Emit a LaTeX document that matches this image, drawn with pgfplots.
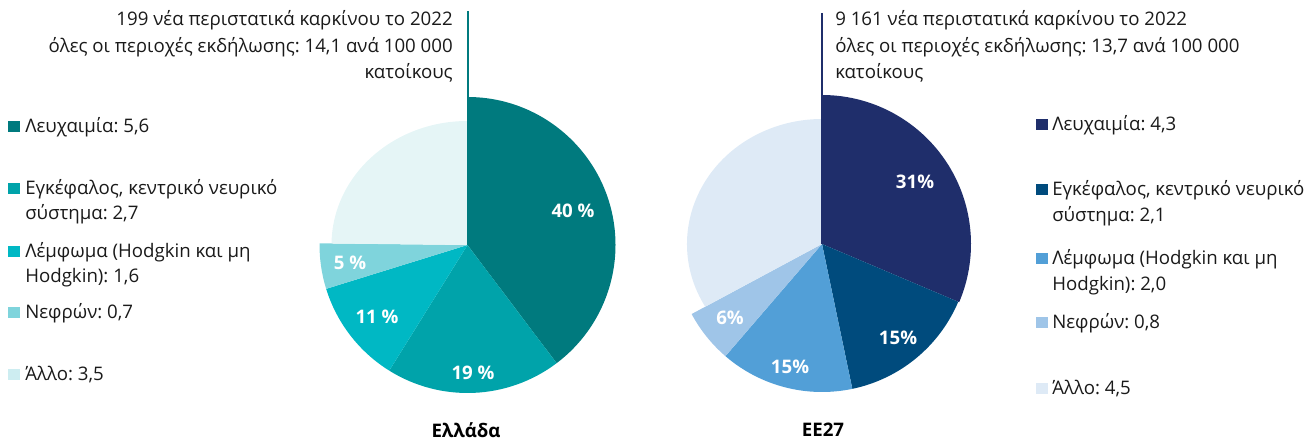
\documentclass[border=0pt]{standalone}
\usepackage{fontspec}
\setmainfont{Open Sans}
\usepackage{pgfplots}
\usepackage{pgfplotstable}
\pgfplotsset{compat=1.18}

% Greece palette
\definecolor{gr0}{HTML}{007A7E}
\definecolor{gr1}{HTML}{00A3AA}
\definecolor{gr2}{HTML}{00B8C4}
\definecolor{gr3}{HTML}{7FD4DC}
\definecolor{gr4}{HTML}{E5F5F6}
\definecolor{grleg4}{HTML}{CDEDF1}
% EU palette
\definecolor{eu0}{HTML}{1F2E6B}
\definecolor{eu1}{HTML}{004B7D}
\definecolor{eu2}{HTML}{529FD7}
\definecolor{eu3}{HTML}{9FC5E8}
\definecolor{eu4}{HTML}{DEEAF6}
\definecolor{txt}{HTML}{1A1A1A}

% rates per 100 000; rx/ry = slice radius in px
\pgfplotstableread{
value rx ry
5.6 148 148
2.7 148 148
1.6 148 148
0.7 148 148
3.5 136 124
}\greece

\pgfplotstableread{
value rx ry
4.3 149 149
2.1 148 148
2.0 148 148
0.8 148 148
4.5 135 125
}\eudata

% polar angle -> ellipse parameter, kept next to the polar angle
\newcommand{\elpar}[4]{% #1 out macro, #2 angle, #3 rx, #4 ry
  \pgfmathsetmacro\tmpa{atan2(#3*sin(#2),#4*cos(#2))}%
  \pgfmathsetmacro#1{\tmpa+360*round((#2-\tmpa)/360)}}

% #1 table, #2 #3 centre (px), #4 colour prefix
\newcommand{\drawpie}[4]{%
  \xdef\pietot{0}%
  \foreach \i in {0,...,4}{%
    \pgfplotstablegetelem{\i}{value}\of{#1}%
    \pgfmathsetmacro\tmp{\pietot+\pgfplotsretval}\xdef\pietot{\tmp}}%
  \xdef\pieang{90}%
  \foreach \i in {0,...,4}{%
    \pgfplotstablegetelem{\i}{value}\of{#1}\let\pval\pgfplotsretval
    \pgfplotstablegetelem{\i}{rx}\of{#1}\let\prx\pgfplotsretval
    \pgfplotstablegetelem{\i}{ry}\of{#1}\let\pry\pgfplotsretval
    \pgfmathsetmacro\endang{\pieang-360*\pval/\pietot}%
    \elpar{\ts}{\pieang}{\prx}{\pry}%
    \elpar{\te}{\endang}{\prx}{\pry}%
    \fill[#4\i] (axis cs:#2,#3) -- ++({\prx*0.75pt*cos(\ts)},{\pry*0.75pt*sin(\ts)})
      arc[start angle=\ts, end angle=\te, x radius=\prx*0.75pt, y radius=\pry*0.75pt] -- cycle;
    \xdef\pieang{\endang}%
  }}

\begin{document}
\frenchspacing
\begin{tikzpicture}
\begin{axis}[
    width=985.5pt, height=330pt, scale only axis,
    xmin=0, xmax=1314, ymin=0, ymax=440, y dir=reverse,
    hide axis, clip=false,
]
\addplot[draw=none] coordinates {(0,0) (1314,440)};
\pgfplotsextra{%
  \drawpie{\greece}{467.5}{245}{gr}
  \drawpie{\eudata}{822}{244}{eu}
}
\draw[gr0, line width=1.5pt] (axis cs:467.5,11) -- (axis cs:467.5,245);
\draw[eu0, line width=1.5pt] (axis cs:822,13) -- (axis cs:822,244);

% annotations
\begin{scope}[every node/.style={font=\fontsize{14}{16}\selectfont, text=txt, inner sep=0pt}]
\node[anchor=mid east] at (axis cs:453,21.5) {199 νέα περιστατικά καρκίνου το 2022};
\node[anchor=mid east] at (axis cs:453,48.5) {όλες οι περιοχές εκδήλωσης: 14,1 ανά 100 000};
\node[anchor=mid east] at (axis cs:453,74.5) {κατοίκους};
\node[anchor=mid west] at (axis cs:835,21.5) {9 161 νέα περιστατικά καρκίνου το 2022};
\node[anchor=mid west] at (axis cs:835,48.5) {όλες οι περιοχές εκδήλωσης: 13,7 ανά 100 000};
\node[anchor=mid west] at (axis cs:835,74.5) {κατοίκους};

% Greece legend
\node[anchor=mid west] at (axis cs:25,129) {Λευχαιμία: 5,6};
\node[anchor=mid west] at (axis cs:25,191) {Εγκέφαλος, κεντρικό νευρικό};
\node[anchor=mid west] at (axis cs:25,216) {σύστημα: 2,7};
\node[anchor=mid west] at (axis cs:25,254) {Λέμφωμα (Hodgkin και μη};
\node[anchor=mid west] at (axis cs:25,279) {Hodgkin): 1,6};
\node[anchor=mid west] at (axis cs:25,315) {Νεφρών: 0,7};
\node[anchor=mid west] at (axis cs:25,377) {Άλλο: 3,5};

% EU legend
\node[anchor=mid west] at (axis cs:1052,127) {Λευχαιμία: 4,3};
\node[anchor=mid west] at (axis cs:1052,192) {Εγκέφαλος, κεντρικό νευρικό};
\node[anchor=mid west] at (axis cs:1052,218) {σύστημα: 2,1};
\node[anchor=mid west] at (axis cs:1052,261) {Λέμφωμα (Hodgkin και μη};
\node[anchor=mid west] at (axis cs:1052,287) {Hodgkin): 2,0};
\node[anchor=mid west] at (axis cs:1052,325) {Νεφρών: 0,8};
\node[anchor=mid west] at (axis cs:1052,391) {Άλλο: 4,5};
\end{scope}

% legend swatches
\fill[gr0] (axis cs:8,121) rectangle (axis cs:20,132);
\fill[gr1] (axis cs:8,183) rectangle (axis cs:20,194);
\fill[gr2] (axis cs:8,246) rectangle (axis cs:20,257);
\fill[gr3] (axis cs:8,307) rectangle (axis cs:20,318);
\fill[grleg4] (axis cs:8,369) rectangle (axis cs:20,380);
\fill[eu0] (axis cs:1036,119) rectangle (axis cs:1048,130);
\fill[eu1] (axis cs:1036,184) rectangle (axis cs:1048,195);
\fill[eu2] (axis cs:1036,253) rectangle (axis cs:1048,264);
\fill[eu3] (axis cs:1036,317) rectangle (axis cs:1048,328);
\fill[eu4] (axis cs:1036,383) rectangle (axis cs:1048,394);

% slice labels
\begin{scope}[every node/.style={font=\bfseries\fontsize{14}{16}\selectfont, text=white}]
\node at (axis cs:573,211) {40 \%};
\node at (axis cs:473,373) {19 \%};
\node at (axis cs:377,317) {11 \%};
\node at (axis cs:350,263) {5 \%};
\node at (axis cs:915,182) {31\%};
\node at (axis cs:898,338) {15\%};
\node at (axis cs:790,367) {15\%};
\node at (axis cs:730,318) {6\%};
\end{scope}

% titles
\node[font=\bfseries\fontsize{14}{16}\selectfont, text=black] at (axis cs:466,430) {Ελλάδα};
\node[font=\bfseries\fontsize{14}{16}\selectfont, text=black] at (axis cs:823,430) {ΕΕ27};
\end{axis}
\end{tikzpicture}
\end{document}
